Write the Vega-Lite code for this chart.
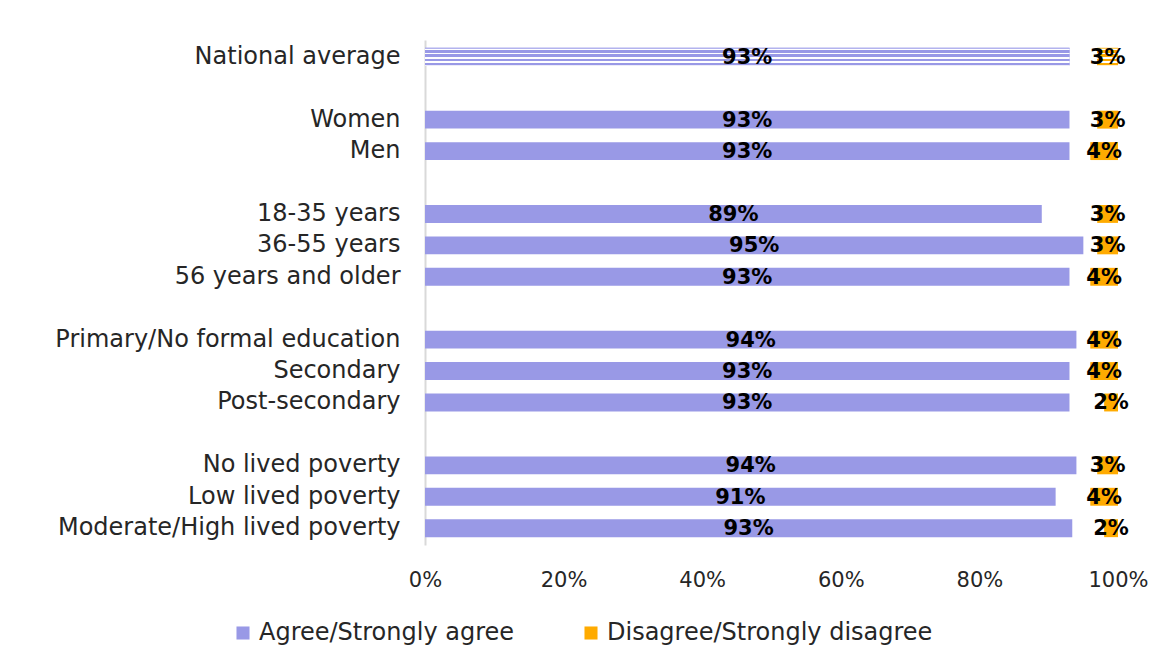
{
  "$schema": "https://vega.github.io/schema/vega-lite/v6.json",
  "width": 693,
  "height": 505,
  "autosize": {"type": "none"},
  "padding": {"left": 425, "top": 40, "right": 50, "bottom": 119},
  "background": "white",
  "config": {
    "font": "DejaVu Sans",
    "view": {"stroke": null},
    "axis": {"labelColor": "#262626", "title": null}
  },
  "data": {
    "values": [
      {"group": "National average", "agree": 0.93, "disagree": 0.03},
      {"group": "Women", "agree": 0.93, "disagree": 0.03},
      {"group": "Men", "agree": 0.93, "disagree": 0.04},
      {"group": "18-35 years", "agree": 0.89, "disagree": 0.03},
      {"group": "36-55 years", "agree": 0.95, "disagree": 0.03},
      {"group": "56 years and older", "agree": 0.93, "disagree": 0.04},
      {"group": "Primary/No formal education", "agree": 0.94, "disagree": 0.04},
      {"group": "Secondary", "agree": 0.93, "disagree": 0.04},
      {"group": "Post-secondary", "agree": 0.93, "disagree": 0.02},
      {"group": "No lived poverty", "agree": 0.94, "disagree": 0.03},
      {"group": "Low lived poverty", "agree": 0.91, "disagree": 0.04},
      {"group": "Moderate/High lived poverty", "agree": 0.934, "disagree": 0.02}
    ]
  },
  "encoding": {
    "y": {
      "field": "group",
      "type": "nominal",
      "sort": null,
      "scale": {
        "domain": ["National average", " ", "Women", "Men", "  ", "18-35 years", "36-55 years", "56 years and older", "   ", "Primary/No formal education", "Secondary", "Post-secondary", "    ", "No lived poverty", "Low lived poverty", "Moderate/High lived poverty"],
        "paddingInner": 0.43,
        "paddingOuter": 0.25
      },
      "axis": {
        "ticks": false,
        "domain": true,
        "domainColor": "#d9d9d9",
        "domainWidth": 2,
        "labelFontSize": 24,
        "labelPadding": 25,
        "labelLimit": 500
      }
    }
  },
  "layer": [
    {
      "mark": {"type": "bar"},
      "encoding": {
        "x": {
          "field": "agree",
          "type": "quantitative",
          "scale": {"domain": [0, 1]},
          "axis": {
            "format": ".0%",
            "values": [0, 0.2, 0.4, 0.6, 0.8, 1],
            "grid": false,
            "ticks": false,
            "domain": false,
            "labelFontSize": 21,
            "labelPadding": 24,
            "labelFlush": false
          }
        },
        "color": {
          "datum": "Agree/Strongly agree",
          "type": "nominal",
          "scale": {
            "domain": ["Agree/Strongly agree", "Disagree/Strongly disagree"],
            "range": ["#9999e6", "#ffab00"]
          },
          "legend": {
            "title": null,
            "orient": "none",
            "legendX": -194,
            "legendY": 581,
            "direction": "horizontal",
            "symbolType": "square",
            "symbolSize": 170,
            "symbolStrokeWidth": 0,
            "labelFontSize": 24,
            "labelColor": "#262626",
            "columnPadding": 64,
            "labelLimit": 500
          }
        }
      }
    },
    {
      "mark": {"type": "bar"},
      "encoding": {
        "x": {
          "field": "disagree",
          "type": "quantitative",
          "scale": {"domain": [0, 1], "reverse": true},
          "axis": null
        },
        "x2": {"datum": 0},
        "color": {"datum": "Disagree/Strongly disagree", "type": "nominal"}
      }
    },
    {
      "transform": [{"filter": "datum.group === 'National average'"}],
      "mark": {
        "type": "bar",
        "color": {
          "gradient": "linear", "x1": 0, "y1": 0, "x2": 0, "y2": 1,
          "stops": [
            {"offset": 0, "color": "#b3b3ee"}, {"offset": 0.07, "color": "#b3b3ee"},
            {"offset": 0.07, "color": "#ffffff"}, {"offset": 0.14, "color": "#ffffff"},
            {"offset": 0.14, "color": "#9999e6"}, {"offset": 0.3, "color": "#9999e6"},
            {"offset": 0.3, "color": "#ffffff"}, {"offset": 0.37, "color": "#ffffff"},
            {"offset": 0.37, "color": "#9999e6"}, {"offset": 0.53, "color": "#9999e6"},
            {"offset": 0.53, "color": "#ffffff"}, {"offset": 0.6, "color": "#ffffff"},
            {"offset": 0.6, "color": "#9999e6"}, {"offset": 0.76, "color": "#9999e6"},
            {"offset": 0.76, "color": "#ffffff"}, {"offset": 0.83, "color": "#ffffff"},
            {"offset": 0.83, "color": "#9999e6"}, {"offset": 0.97, "color": "#9999e6"},
            {"offset": 0.97, "color": "#ffffff"}, {"offset": 1, "color": "#ffffff"}
          ]
        }
      },
      "encoding": {
        "x": {"field": "agree", "type": "quantitative", "scale": {"domain": [0, 1]}, "axis": null}
      }
    },
    {
      "transform": [{"filter": "datum.group === 'National average'"}],
      "mark": {
        "type": "bar",
        "color": {
          "gradient": "linear", "x1": 0, "y1": 0, "x2": 0, "y2": 1,
          "stops": [
            {"offset": 0, "color": "#ffc850"}, {"offset": 0.07, "color": "#ffc850"},
            {"offset": 0.07, "color": "#ffffff"}, {"offset": 0.14, "color": "#ffffff"},
            {"offset": 0.14, "color": "#ffab00"}, {"offset": 0.3, "color": "#ffab00"},
            {"offset": 0.3, "color": "#ffffff"}, {"offset": 0.37, "color": "#ffffff"},
            {"offset": 0.37, "color": "#ffab00"}, {"offset": 0.53, "color": "#ffab00"},
            {"offset": 0.53, "color": "#ffffff"}, {"offset": 0.6, "color": "#ffffff"},
            {"offset": 0.6, "color": "#ffab00"}, {"offset": 0.76, "color": "#ffab00"},
            {"offset": 0.76, "color": "#ffffff"}, {"offset": 0.83, "color": "#ffffff"},
            {"offset": 0.83, "color": "#ffab00"}, {"offset": 0.97, "color": "#ffab00"},
            {"offset": 0.97, "color": "#ffffff"}, {"offset": 1, "color": "#ffffff"}
          ]
        }
      },
      "encoding": {
        "x": {"field": "disagree", "type": "quantitative", "scale": {"domain": [0, 1], "reverse": true}, "axis": null},
        "x2": {"datum": 0}
      }
    },
    {
      "mark": {"type": "text", "fontWeight": "bold", "fontSize": 21, "color": "#000000", "baseline": "middle", "align": "center", "dy": 1},
      "encoding": {
        "x": {"field": "agree", "type": "quantitative", "scale": {"domain": [0, 2]}, "axis": null},
        "text": {"field": "agree", "type": "quantitative", "format": ".0%"}
      }
    },
    {
      "mark": {"type": "text", "fontWeight": "bold", "fontSize": 21, "color": "#000000", "baseline": "middle", "align": "center", "dy": 1},
      "encoding": {
        "x": {"field": "disagree", "type": "quantitative", "scale": {"domain": [0, 2], "reverse": true}, "axis": null},
        "text": {"field": "disagree", "type": "quantitative", "format": ".0%"}
      }
    }
  ],
  "resolve": {"scale": {"x": "independent"}}
}
